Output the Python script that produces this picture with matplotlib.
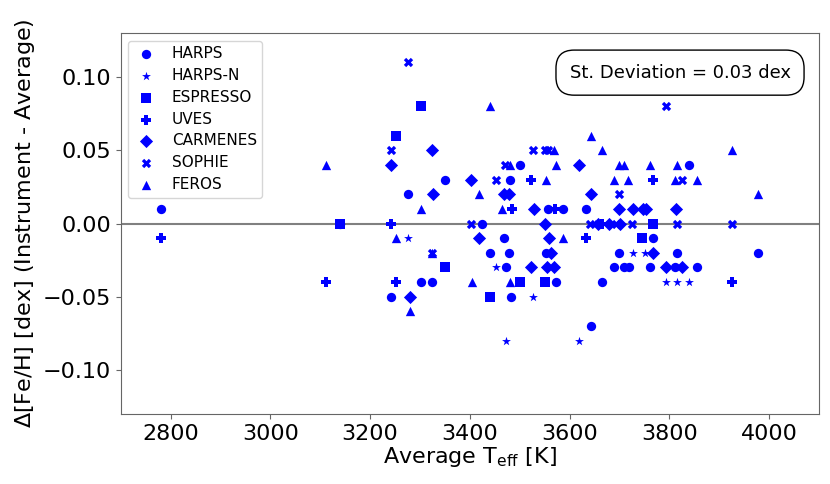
import matplotlib
matplotlib.use("Agg")
import matplotlib.pyplot as plt

# Teff [K] and Delta[Fe/H] [dex] per instrument
harps_t = [2780, 3140, 3275, 3241, 3351, 3480, 3500, 3557, 3587, 3632, 3424, 3468,
           3440, 3478, 3553, 3472, 3302, 3325, 3573, 3665, 3483, 3642, 3840, 3767,
           3699, 3815, 3978, 3689, 3709, 3719, 3761, 3812, 3855]
harps_fe = [0.01, 0.00, 0.02, -0.05, 0.03, 0.03, 0.04, 0.01, 0.01, 0.01, 0.00, -0.01,
            -0.02, -0.02, -0.02, -0.03, -0.04, -0.04, -0.04, -0.04, -0.05, -0.07, 0.04, -0.01,
            -0.02, -0.02, -0.02, -0.03, -0.03, -0.03, -0.03, -0.03, -0.03]

harpsn_t = [3275, 3452, 3527, 3472, 3619, 3727, 3752, 3793, 3815, 3839, 3650, 3557]
harpsn_fe = [-0.01, -0.03, -0.05, -0.08, -0.08, -0.02, -0.02, -0.04, -0.04, -0.04, 0.00, 0.05]

espresso_t = [3252, 3302, 3351, 3441, 3501, 3550, 3745, 3767, 3140]
espresso_fe = [0.06, 0.08, -0.03, -0.05, -0.04, -0.04, -0.01, 0.00, 0.00]

uves_t = [2780, 3111, 3241, 3252, 3522, 3485, 3570, 3633, 3767, 3925, 3665]
uves_fe = [-0.01, -0.04, 0.00, -0.04, 0.03, 0.01, 0.01, -0.01, 0.03, -0.04, 0.00]

carmenes_t = [3241, 3280, 3325, 3326, 3403, 3468, 3478, 3528, 3619, 3642, 3419, 3558,
              3563, 3522, 3555, 3568, 3699, 3727, 3747, 3753, 3813, 3767, 3793, 3825,
              3657, 3679, 3701, 3550]
carmenes_fe = [0.04, -0.05, 0.05, 0.02, 0.03, 0.02, 0.02, 0.01, 0.04, 0.02, -0.01, -0.01,
               -0.02, -0.03, -0.03, -0.03, 0.01, 0.01, 0.01, 0.01, 0.01, -0.02, -0.03, -0.03,
               0.00, 0.00, 0.00, 0.00]

sophie_t = [3275, 3241, 3527, 3550, 3557, 3470, 3452, 3325, 3403, 3793, 3825, 3699,
            3640, 3693, 3725, 3815, 3925]
sophie_fe = [0.11, 0.05, 0.05, 0.05, 0.05, 0.04, 0.03, -0.02, 0.00, 0.08, 0.03, 0.02,
             0.00, 0.00, 0.00, 0.00, 0.00]

feros_t = [3111, 3252, 3280, 3302, 3440, 3642, 3568, 3665, 3925, 3480, 3573, 3699,
           3709, 3761, 3815, 3419, 3552, 3689, 3718, 3812, 3855, 3465, 3587, 3404,
           3480, 3978, 3325]
feros_fe = [0.04, -0.01, -0.06, 0.01, 0.08, 0.06, 0.05, 0.05, 0.05, 0.04, 0.04, 0.04,
            0.04, 0.04, 0.04, 0.02, 0.03, 0.03, 0.03, 0.03, 0.03, 0.01, -0.01, -0.04,
            -0.04, 0.02, -0.02]

series = [
    ("HARPS", harps_t, harps_fe, "o", 45),
    ("HARPS-N", harpsn_t, harpsn_fe, "*", 45),
    ("ESPRESSO", espresso_t, espresso_fe, "s", 45),
    ("UVES", uves_t, uves_fe, "P", 50),
    ("CARMENES", carmenes_t, carmenes_fe, "D", 45),
    ("SOPHIE", sophie_t, sophie_fe, "X", 45),
    ("FEROS", feros_t, feros_fe, "^", 45),
]

fig = plt.figure(figsize=(8.3, 4.84), dpi=100)
ax = fig.add_axes([0.1455, 0.1446, 0.8412, 0.7872])

ax.axhline(0.0, color="gray", lw=1.5, zorder=1)
for name, t, fe, mk, size in series:
    ax.scatter(t, fe, marker=mk, s=size, color="blue", linewidths=0, label=name, zorder=3)

ax.set_xlim(2700, 4100)
ax.set_ylim(-0.13, 0.13)
ax.set_xticks([2800, 3000, 3200, 3400, 3600, 3800, 4000])
ax.set_yticks([-0.10, -0.05, 0.00, 0.05, 0.10])
ax.tick_params(labelsize=16, color="0.4")
for sp in ax.spines.values():
    sp.set_color("0.4")

ax.set_xlabel(r"Average T$_{\rm eff}$ [K]", fontsize=16, labelpad=1)
ax.set_ylabel(r"$\Delta$[Fe/H] [dex] (Instrument - Average)", fontsize=16)

ax.legend(loc="upper left", fontsize=11, scatterpoints=1, borderpad=0.35,
          labelspacing=0.45, handlelength=1.6, handletextpad=0.9)
ax.text(0.801, 0.896, "St. Deviation = 0.03 dex", transform=ax.transAxes, fontsize=13,
        ha="center", va="center",
        bbox=dict(boxstyle="round,pad=0.75,rounding_size=1.0", facecolor="white", edgecolor="black"))

fig.savefig("out.png", dpi=100)
